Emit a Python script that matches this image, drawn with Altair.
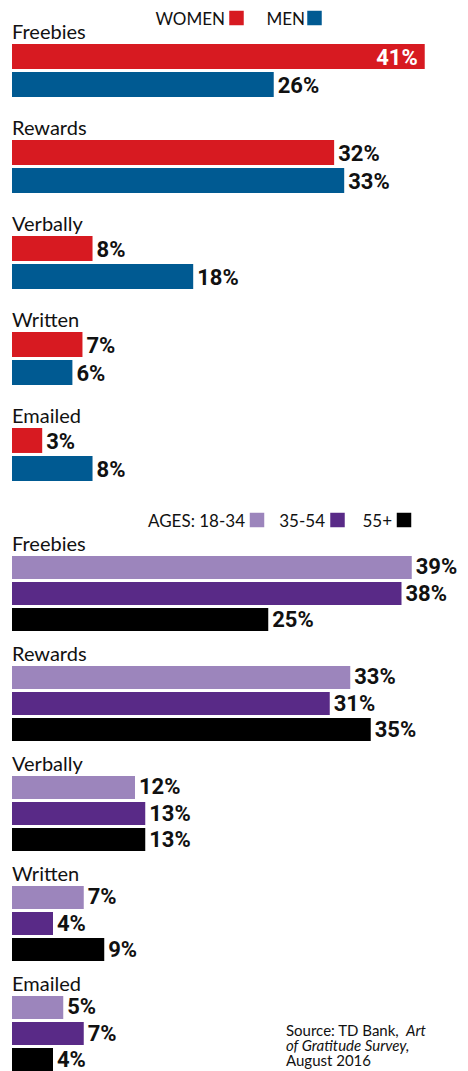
import altair as alt
import pandas as pd

# ---------------- data ----------------
categories = ["Freebies", "Rewards", "Verbally", "Written", "Emailed"]

gender_groups = ["WOMEN", "MEN"]
women = [41, 32, 8, 7, 3]
men = [26, 33, 18, 6, 8]
gender_colors = ["#D71A21", "#005A92"]

age_groups = ["18-34", "35-54", "55+"]
ages_18_34 = [39, 33, 12, 7, 5]
ages_35_54 = [38, 31, 13, 4, 7]
ages_55_plus = [25, 35, 13, 9, 4]
age_colors = ["#9C85BC", "#592A87", "#000000"]

source_line1 = "Source: TD Bank,"
source_line1_italic = "Art"
source_line2 = "of Gratitude Survey,"
source_line3 = "August 2016"

LABEL_FONT = "Lato, Roboto, sans-serif"
VALUE_FONT = "Roboto, Lato, sans-serif"
SOURCE_FONT = "Lato, 'Open Sans', sans-serif"
INK = "#111111"


def long_table(series_by_group):
    rows = []
    for grp, vals in series_by_group.items():
        for cat, v in zip(categories, vals):
            rows.append({"category": cat, "group": grp, "value": v, "label": f"{v}%"})
    return pd.DataFrame(rows)


df_gender = long_table({"WOMEN": women, "MEN": men})
df_age = long_table({"18-34": ages_18_34, "35-54": ages_35_54, "55+": ages_55_plus})
df_cat = pd.DataFrame({"category": categories})


def const_text(txt, x, y, font, size, italic=False, align="left"):
    return alt.Chart(pd.DataFrame({"t": [txt]})).mark_text(
        align=align, baseline="alphabetic", font=font, fontSize=size,
        fontStyle="italic" if italic else "normal", color=INK,
    ).encode(text="t:N", x=alt.value(x), y=alt.value(y))


def section(df, groups, colors, width, xmax, step, y_pad_inner, y_pad_outer, y_align,
            off_pad, cat_dy, val_dy, legend_items, extra_layers):
    y = alt.Y("category:N", axis=None,
              scale=alt.Scale(domain=categories, paddingInner=y_pad_inner,
                              paddingOuter=y_pad_outer, align=y_align))
    yoff = alt.YOffset("group:N",
                       scale=alt.Scale(domain=groups, paddingInner=off_pad, paddingOuter=0))
    x = alt.X("value:Q", axis=None,
              scale=alt.Scale(domain=[0, xmax], nice=False, zero=True))
    color = alt.Color("group:N", legend=None,
                      scale=alt.Scale(domain=groups, range=colors))

    base = alt.Chart(df)
    bars = base.mark_bar().encode(x=x, y=y, yOffset=yoff, color=color)

    outside = base.transform_filter("datum.value < 40").mark_text(
        align="left", baseline="alphabetic", dx=4, dy=val_dy,
        font=VALUE_FONT, fontWeight="bold", fontSize=22, color=INK,
    ).encode(x=x, y=y, yOffset=yoff, text="label:N")

    inside = base.transform_filter("datum.value >= 40").mark_text(
        align="right", baseline="alphabetic", dx=-7, dy=val_dy,
        font=VALUE_FONT, fontWeight="bold", fontSize=22, color="white",
    ).encode(x=x, y=y, yOffset=yoff, text="label:N")

    cat_labels = alt.Chart(df_cat).mark_text(
        align="left", baseline="alphabetic", dy=cat_dy,
        font=LABEL_FONT, fontSize=20, color=INK,
    ).encode(x=alt.value(0), y=y, text="category:N")

    layers = [bars, outside, inside, cat_labels]

    for text, tx, ty, sq_x, sq_y, col in legend_items:
        layers.append(const_text(text, tx, ty, LABEL_FONT, 17, align="right"))
        layers.append(
            alt.Chart(pd.DataFrame({"t": [text]})).mark_square(
                size=210, opacity=1, color=col,
            ).encode(x=alt.value(sq_x), y=alt.value(sq_y))
        )
    layers.extend(extra_layers)

    return alt.layer(*layers).properties(
        width=width, height={"step": step, "for": "position"}
    )


top_legend = [
    ("WOMEN", 213, 25, 224.5, 18, gender_colors[0]),
    ("MEN", 293, 25, 302.5, 18, gender_colors[1]),
]
bottom_legend = [
    ("AGES: 18-34", 233, 27, 245, 20, age_colors[0]),
    ("35-54", 313, 27, 325.5, 20, age_colors[1]),
    ("55+", 380, 27, 392, 20, age_colors[2]),
]
source_layers = [
    const_text(source_line1, 274, 536, SOURCE_FONT, 15),
    const_text(source_line1_italic, 394, 536, SOURCE_FONT, 15, italic=True),
    const_text(source_line2, 274, 551, SOURCE_FONT, 15, italic=True),
    const_text(source_line3, 274, 566, SOURCE_FONT, 15),
]

top = section(df_gender, gender_groups, gender_colors, width=453, xmax=45, step=96,
              y_pad_inner=0.448, y_pad_outer=0.276, y_align=0.83,
              off_pad=0.108, cat_dy=-31, val_dy=9, legend_items=top_legend,
              extra_layers=[])

bottom = section(df_age, age_groups, age_colors, width=451, xmax=44, step=110,
                 y_pad_inner=0.318, y_pad_outer=0.2545, y_align=1.0,
                 off_pad=0.116, cat_dy=-43, val_dy=7, legend_items=bottom_legend,
                 extra_layers=source_layers)

chart = alt.vconcat(top, bottom, spacing=10, bounds="flush").properties(
    padding={"left": 12, "top": 0, "right": 0, "bottom": 0},
    background="white",
).configure_view(stroke=None).resolve_scale(
    color="independent", x="independent", y="independent", yOffset="independent"
)

chart.save("out.html", embed_options={"renderer": "svg", "actions": False})
